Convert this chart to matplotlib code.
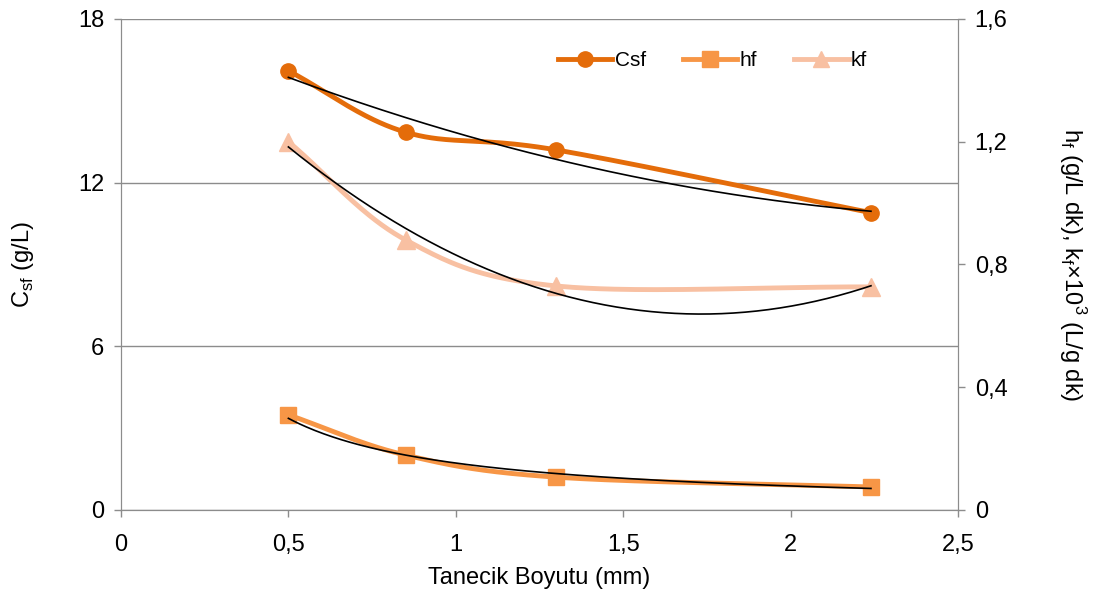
import numpy as np
import matplotlib
matplotlib.use("Agg")
import matplotlib.pyplot as plt
from matplotlib.ticker import FuncFormatter
from matplotlib.lines import Line2D

plt.rcParams['font.family'] = ['Liberation Sans', 'DejaVu Sans']

x = [0.5, 0.85, 1.3, 2.24]
csf = [16.1, 13.85, 13.2, 10.9]
hf = [0.31, 0.179, 0.107, 0.075]
kf = [1.2, 0.88, 0.73, 0.727]

c_csf = '#E46C0A'
c_hf = '#F79646'
c_kf = '#F8C0A2'


def smooth(xs, ys, n=60):
    xs = np.asarray(xs, float); ys = np.asarray(ys, float)
    P = np.column_stack([xs, ys])
    P = np.vstack([2 * P[0] - P[1], P, 2 * P[-1] - P[-2]])
    out = []
    for i in range(1, len(P) - 2):
        p0, p1, p2, p3 = P[i - 1], P[i], P[i + 1], P[i + 2]
        t = np.linspace(0, 1, n)[:, None]
        seg = 0.5 * ((2 * p1) + (-p0 + p2) * t + (2 * p0 - 5 * p1 + 4 * p2 - p3) * t ** 2
                     + (-p0 + 3 * p1 - 3 * p2 + p3) * t ** 3)
        out.append(seg)
    S = np.vstack(out)
    return S[:, 0], S[:, 1]


fig = plt.figure(figsize=(10.93, 6.08), dpi=100)
ax = fig.add_axes([0.1107, 0.1612, 0.7658, 0.8076])
ax2 = ax.twinx()

ax.set_xlim(0, 2.5)
ax.set_ylim(0, 18)
ax2.set_ylim(0, 1.6)
ax.set_yticks([0, 6, 12, 18])
ax.set_xticks([0, 0.5, 1, 1.5, 2, 2.5])
ax2.set_yticks([0, 0.4, 0.8, 1.2, 1.6])
fmt = FuncFormatter(lambda v, p: ('%g' % round(v, 2)).replace('.', ','))
ax.xaxis.set_major_formatter(fmt)
ax2.yaxis.set_major_formatter(fmt)

grid_c = '#8C8C8C'
for a in (ax, ax2):
    for s in a.spines.values():
        s.set_color(grid_c)
    a.spines['top'].set_visible(False)
    a.tick_params(colors=grid_c, labelcolor='black', labelsize=17, length=5, width=1, pad=7)
ax.tick_params(axis='x', pad=12)
ax.yaxis.grid(True, color=grid_c, linewidth=1)
ax.set_axisbelow(True)

# series
sx, sy = smooth(x, csf)
ax.plot(sx, sy, color=c_csf, lw=3.5, zorder=3)
ax.plot(x, csf, 'o', color=c_csf, ms=11, zorder=4)
sx, sy = smooth(x, hf)
ax2.plot(sx, sy, color=c_hf, lw=3.5, zorder=3)
ax2.plot(x, hf, 's', color=c_hf, ms=11, zorder=4)
sx, sy = smooth(x, kf)
ax2.plot(sx, sy, color=c_kf, lw=3.5, zorder=3)
ax2.plot(x, kf, '^', color=c_kf, ms=13, zorder=4)

# trendlines
xt = np.linspace(x[0], x[-1], 200)
p = np.polyfit(x, csf, 2)
ax.plot(xt, np.polyval(p, xt), color='black', lw=1.2, zorder=5)
p = np.polyfit(x, kf, 2)
ax2.plot(xt, np.polyval(p, xt), color='black', lw=1.2, zorder=5)
b, lna = np.polyfit(np.log(x), np.log(hf), 1)
ax2.plot(xt, np.exp(lna) * xt ** b, color='black', lw=1.2, zorder=5)

ax.set_xlabel('Tanecik Boyutu (mm)', fontsize=17, labelpad=8)
ax.set_ylabel('C$_{\\mathregular{sf}}$ (g/L)', fontsize=17, labelpad=30)
ax2.set_ylabel('h$_{\\mathregular{f}}$ (g/L dk), k$_{\\mathregular{f}}$×10$^{\\mathregular{3}}$ (L/g dk)',
               fontsize=17, rotation=270, labelpad=58)

handles = [Line2D([], [], color=c_csf, lw=3.5, marker='o', ms=11),
           Line2D([], [], color=c_hf, lw=3.5, marker='s', ms=11),
           Line2D([], [], color=c_kf, lw=3.5, marker='^', ms=12)]
ax.legend(handles, ['Csf', 'hf', 'kf'], loc='center left', bbox_to_anchor=(0.5, 0.915), ncol=3,
          frameon=False, fontsize=15, handlelength=2.6, columnspacing=1.8, handletextpad=0.1)

fig.savefig('out.png', dpi=100)
